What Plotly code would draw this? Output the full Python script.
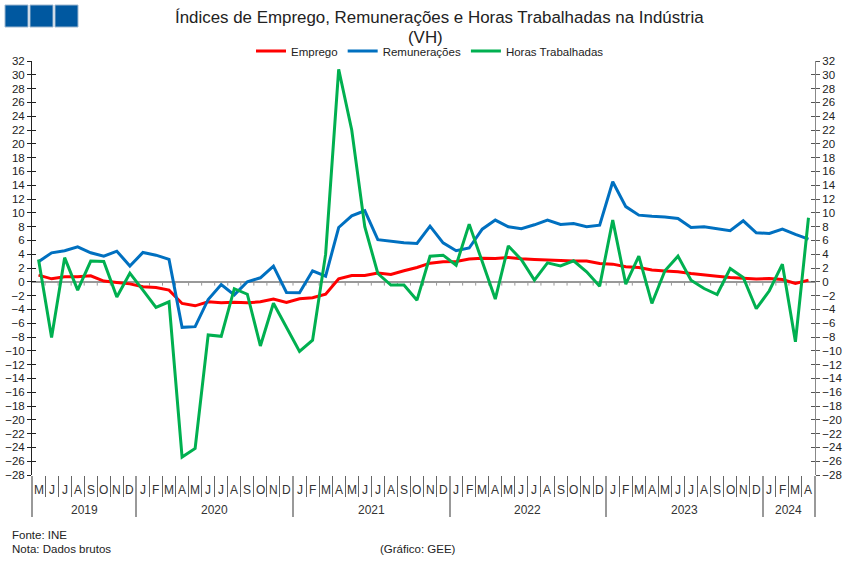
import plotly.graph_objects as go

# ---------------- data ----------------
month_letters = ["J", "F", "M", "A", "M", "J", "J", "A", "S", "O", "N", "D"]
start_year, start_month = 2019, 5   # May 2019
n_periods = 60                      # May 2019 .. Apr 2024

emprego = [0.97, 0.43, 0.72, 0.72, 0.87, 0.10, -0.10, -0.30, -0.72, -0.82,
           -1.20, -3.14, -3.48, -2.90, -3.04, -2.95, -3.04, -2.90, -2.50, -3.00,
           -2.45, -2.30, -1.80, 0.43, 0.92, 0.92, 1.26, 1.06, 1.60, 2.08,
           2.70, 2.90, 2.95, 3.30, 3.43, 3.38, 3.53, 3.33, 3.24, 3.14,
           3.10, 3.00, 3.00, 2.66, 2.56, 2.17, 2.08, 1.70, 1.55, 1.45,
           1.20, 1.06, 0.82, 0.63, 0.48, 0.39, 0.48, 0.34, -0.24, 0.24]

remuneracoes = [2.90, 4.20, 4.50, 5.07, 4.20, 3.70, 4.44, 2.30, 4.25, 3.86,
                3.24, -6.60, -6.50, -2.56, -0.40, -1.90, 0.00, 0.58, 2.27, -1.55,
                -1.58, 1.60, 0.82, 7.87, 9.57, 10.30, 6.10, 5.85, 5.65, 5.56,
                8.07, 5.65, 4.50, 4.90, 7.63, 8.94, 7.97, 7.70, 8.26, 8.94,
                8.30, 8.45, 7.97, 8.20, 14.50, 10.90, 9.66, 9.50, 9.40, 9.18,
                7.87, 7.97, 7.73, 7.40, 8.84, 7.10, 7.00, 7.63, 6.86, 6.18]

horas = [3.24, -8.07, 3.50, -1.20, 3.00, 2.95, -2.20, 1.25, -1.20, -3.72,
         -2.90, -25.40, -24.15, -7.70, -7.90, -1.00, -1.80, -9.30, -3.10, -6.70,
         -10.10, -8.45, 4.00, 30.80, 22.00, 8.00, 1.20, -0.48, -0.48, -2.66,
         3.70, 3.86, 2.40, 8.36, 2.90, -2.50, 5.20, 3.20, 0.24, 2.75,
         2.30, 3.04, 1.45, -0.63, 8.94, -0.34, 3.72, -3.14, 1.60, 3.72,
         0.24, -0.97, -1.84, 1.93, 0.63, -3.90, -1.30, 2.56, -8.70, 9.28]

series_names = ["Emprego", "Remunerações", "Horas Trabalhadas"]
series_colors = ["#FF0000", "#0070C0", "#00B050"]

title_line1 = "Índices de Emprego, Remunerações e Horas Trabalhadas na Indústria"
title_line2 = "(VH)"

# ---------------- derived category info ----------------
x = list(range(n_periods))
labels, years = [], []
for i in x:
    m0 = start_month - 1 + i
    labels.append(month_letters[m0 % 12])
    years.append(start_year + m0 // 12)

boundaries = [i + 0.5 for i in range(n_periods - 1)]
year_bounds = [-0.5] + [i + 0.5 for i in range(n_periods - 1) if years[i] != years[i + 1]] + [n_periods - 0.5]
year_list = sorted(set(years))
year_centers = [sum(i for i in x if years[i] == y) / years.count(y) for y in year_list]

FONT = "Arial, Liberation Sans, sans-serif"
ML, MR, MT, MB = 32, 35, 61, 87
W, H = 850, 562
pw, ph = W - ML - MR, H - MT - MB
def px(xp): return (xp - ML) / pw
def py(yp): return (H - MB - yp) / ph

fig = go.Figure()

# small ticks on the zero line
tx, ty = [], []
for b in boundaries:
    tx += [b, b, None]
    ty += [0, -0.55, None]
fig.add_trace(go.Scatter(x=tx, y=ty, mode="lines", line=dict(color="#999999", width=1),
                         showlegend=False, hoverinfo="skip"))

for name, vals, col in zip(series_names, [emprego, remuneracoes, horas], series_colors):
    fig.add_trace(go.Scatter(x=x, y=vals, name=name, mode="lines",
                             line=dict(color=col, width=3)))

# dummy traces to activate overlay axes
for xa, ya in [("x2", "y"), ("x", "y2"), ("x", "y3"), ("x", "y4")]:
    fig.add_trace(go.Scatter(x=[None], y=[None], xaxis=xa, yaxis=ya,
                             showlegend=False, hoverinfo="skip"))

yr = [-28, 32]
common_y = dict(range=yr, dtick=2, tick0=0, showgrid=False, automargin=False)
fig.update_layout(
    width=W, height=H, autosize=False,
    margin=dict(l=ML, r=MR, t=MT, b=MB),
    paper_bgcolor="white", plot_bgcolor="white",
    font=dict(family=FONT, size=11, color="#222222"),
    xaxis=dict(range=[-0.5, n_periods - 0.5], showgrid=False, zeroline=False, automargin=False,
               showline=False, showticklabels=False, ticks="outside",
               tickvals=boundaries, ticklen=21, tickcolor="#666666", tickwidth=1),
    xaxis2=dict(range=[-0.5, n_periods - 0.5], overlaying="x", anchor="y", side="bottom",
                automargin=False,
                showgrid=False, zeroline=False, showline=False, showticklabels=False,
                ticks="outside", tickvals=year_bounds, ticklen=41, tickcolor="#999999", tickwidth=2),
    yaxis=dict(**common_y, zeroline=True,
               zerolinecolor="#999999", zerolinewidth=2, showline=True, linecolor="#222222",
               linewidth=1, ticks="outside", ticklen=4, tickcolor="#222222",
               tickfont=dict(size=11.5, color="#222222")),
    yaxis2=dict(**common_y, overlaying="y", side="right", anchor="x",
                zeroline=False, showline=True, linecolor="#888888",
                linewidth=1, ticks="outside", ticklen=4, tickcolor="#555555",
                tickfont=dict(size=11.5, color="#222222")),
    yaxis3=dict(**common_y, overlaying="y", side="left", anchor="x", zeroline=False,
                showline=False, showticklabels=False, ticks="inside", ticklen=4,
                tickcolor="#222222"),
    yaxis4=dict(**common_y, overlaying="y", side="right", anchor="x", zeroline=False,
                showline=False, showticklabels=False, ticks="inside", ticklen=4,
                tickcolor="#555555"),
    legend=dict(orientation="h", x=px(430), xanchor="center", y=py(51), yanchor="middle",
                font=dict(size=11.5, color="#222222"), bgcolor="rgba(0,0,0,0)",
                itemwidth=30, tracegroupgap=0),
    showlegend=True,
)

for i in x:
    fig.add_annotation(x=i, y=0, xref="x", yref="paper", text=labels[i], showarrow=False,
                       yanchor="middle", yshift=-15, font=dict(size=12, color="#333333"))
for yv, c in zip(year_list, year_centers):
    fig.add_annotation(x=c, y=0, xref="x", yref="paper", text=str(yv), showarrow=False,
                       yanchor="middle", yshift=-35, font=dict(size=12, color="#333333"))

fig.add_annotation(x=px(439), y=py(18), xref="paper", yref="paper", text=title_line1,
                   showarrow=False, xanchor="center", yanchor="middle",
                   font=dict(size=16.9, color="#222222"))
fig.add_annotation(x=px(425), y=py(38), xref="paper", yref="paper", text=title_line2,
                   showarrow=False, xanchor="center", yanchor="middle",
                   font=dict(size=16.9, color="#222222"))
fig.add_annotation(x=px(10), y=py(535), xref="paper", yref="paper", text="Fonte: INE",
                   showarrow=False, xanchor="left", yanchor="middle", font=dict(size=11.5))
fig.add_annotation(x=px(10), y=py(549), xref="paper", yref="paper", text="Nota: Dados brutos",
                   showarrow=False, xanchor="left", yanchor="middle", font=dict(size=11.5))
fig.add_annotation(x=px(418), y=py(549), xref="paper", yref="paper", text="(Gráfico: GEE)",
                   showarrow=False, xanchor="center", yanchor="middle", font=dict(size=11.5))

# logo squares
for k in range(3):
    fig.add_shape(type="rect", xref="paper", yref="paper",
                  x0=px(5 + 25 * k), x1=px(28 + 25 * k), y0=py(5), y1=py(27),
                  fillcolor="#0058A0", line=dict(color="#9FB8D0", width=1))

fig.write_html("out.html")
